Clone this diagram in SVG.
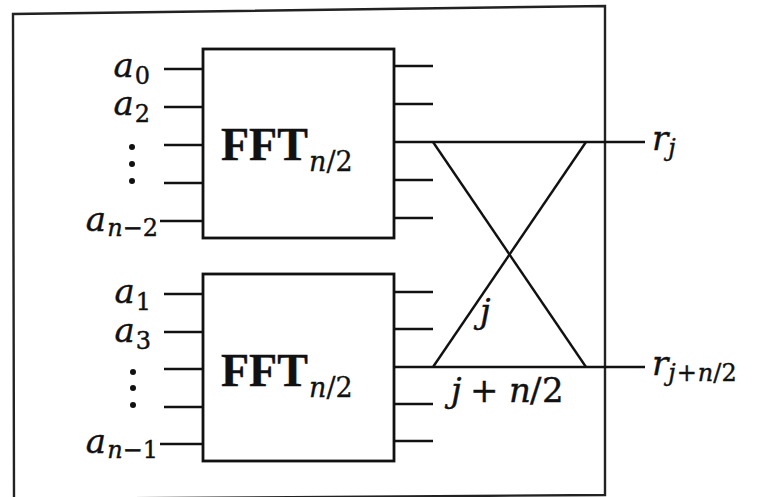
<svg xmlns="http://www.w3.org/2000/svg" width="757" height="497" viewBox="0 0 757 497">
<style>
.ln{stroke:#111;stroke-width:2.4;fill:none;stroke-linecap:butt}
.box{stroke:#111;stroke-width:2.8;fill:#fff}
.frame{stroke:#222;stroke-width:2.4;fill:none}
.m{font-family:"DejaVu Serif","Liberation Serif",serif;font-style:italic;font-size:34px;fill:#111;stroke:#111;stroke-width:0.4}
.s{font-size:24px}
.rm{font-style:normal}
.fft{font-family:"Liberation Serif","Times New Roman",serif;font-weight:bold;font-size:46px;fill:#111;stroke:#111;stroke-width:0.4}
.sub{font-family:"DejaVu Serif","Liberation Serif",serif;font-style:italic;font-size:27px;fill:#111;stroke:#111;stroke-width:0.3}
.dot{fill:#111}
</style>
<rect width="757" height="497" fill="#fff"/>
<path class="frame" d="M14,499 L13,14 L605,6 L605,495 L14,499"/>

<g id="connectors">
  <line class="ln" x1="164" y1="69" x2="203" y2="69"/>
  <line class="ln" x1="164" y1="107" x2="203" y2="107"/>
  <line class="ln" x1="164" y1="145" x2="203" y2="145"/>
  <line class="ln" x1="164" y1="183" x2="203" y2="183"/>
  <line class="ln" x1="160" y1="221" x2="203" y2="221"/>
  <line class="ln" x1="164" y1="294" x2="203" y2="294"/>
  <line class="ln" x1="164" y1="332" x2="203" y2="332"/>
  <line class="ln" x1="164" y1="369" x2="203" y2="369"/>
  <line class="ln" x1="164" y1="407" x2="203" y2="407"/>
  <line class="ln" x1="160" y1="444" x2="203" y2="444"/>
  <line class="ln" x1="394" y1="66" x2="433" y2="66"/>
  <line class="ln" x1="394" y1="104" x2="433" y2="104"/>
  <line class="ln" x1="394" y1="142" x2="645" y2="142"/>
  <line class="ln" x1="394" y1="180" x2="433" y2="180"/>
  <line class="ln" x1="394" y1="218" x2="433" y2="218"/>
  <line class="ln" x1="394" y1="292" x2="433" y2="292"/>
  <line class="ln" x1="394" y1="329" x2="433" y2="329"/>
  <line class="ln" x1="394" y1="367" x2="645" y2="367"/>
  <line class="ln" x1="394" y1="404" x2="433" y2="404"/>
  <line class="ln" x1="394" y1="441" x2="433" y2="441"/>
  <line class="ln" x1="433" y1="142" x2="586" y2="367"/>
  <line class="ln" x1="433" y1="367" x2="586" y2="142"/>
</g>

<g id="fft-top">
  <rect class="box" x="203" y="49" width="191" height="189"/>
  <text class="fft" x="221" y="160">FFT</text>
  <text class="sub" x="309" y="171">n<tspan class="rm">/2</tspan></text>
</g>

<g id="fft-bottom">
  <rect class="box" x="203" y="274" width="191" height="187"/>
  <text class="fft" x="221" y="386">FFT</text>
  <text class="sub" x="309" y="397">n<tspan class="rm">/2</tspan></text>
</g>

<g id="inputs-even">
  <text class="m" x="150" y="77" text-anchor="end">a<tspan class="s rm" dx="1" dy="7">0</tspan></text>
  <text class="m" x="150" y="115" text-anchor="end">a<tspan class="s rm" dx="1" dy="7">2</tspan></text>
  <circle class="dot" cx="132" cy="147" r="3"/>
  <circle class="dot" cx="132" cy="164" r="3"/>
  <circle class="dot" cx="132" cy="181" r="3"/>
  <text class="m" x="158" y="231" text-anchor="end">a<tspan class="s" dx="1" dy="5">n</tspan><tspan class="s rm">−2</tspan></text>
</g>

<g id="inputs-odd">
  <text class="m" x="151" y="303" text-anchor="end">a<tspan class="s rm" dx="1" dy="7">1</tspan></text>
  <text class="m" x="151" y="342" text-anchor="end">a<tspan class="s rm" dx="1" dy="7">3</tspan></text>
  <circle class="dot" cx="133" cy="372" r="3"/>
  <circle class="dot" cx="133" cy="388" r="3"/>
  <circle class="dot" cx="133" cy="405" r="3"/>
  <text class="m" x="158" y="453" text-anchor="end">a<tspan class="s" dx="1" dy="5">n</tspan><tspan class="s rm">−1</tspan></text>
</g>

<g id="outputs">
  <text class="m" x="652" y="150">r<tspan class="s" dy="6">j</tspan></text>
  <text class="m" x="652" y="375">r<tspan class="s" dy="6">j</tspan><tspan class="s rm" dx="1">+</tspan><tspan class="s" dx="1">n</tspan><tspan class="s rm">/2</tspan></text>
  <text class="m" x="480" y="323">j</text>
  <text class="m"><tspan x="451" y="402">j</tspan><tspan class="rm" x="470" y="402">+</tspan><tspan x="509" y="402">n</tspan><tspan class="rm" x="530" y="402">/</tspan><tspan class="rm" x="542" y="402">2</tspan></text>
</g>
</svg>
